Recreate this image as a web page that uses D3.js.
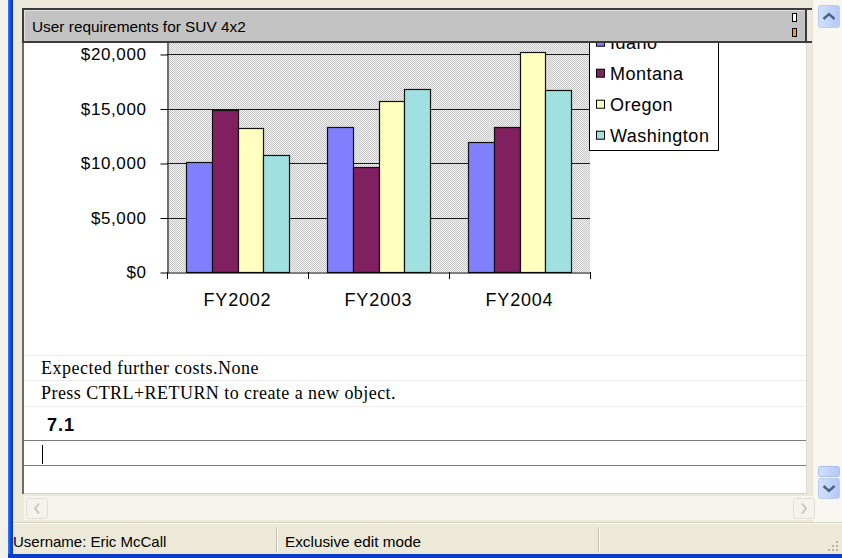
<!DOCTYPE html>
<html>
<head>
<meta charset="utf-8">
<script src="https://cdn.jsdelivr.net/npm/d3@7"></script>
<style>
  html, body { margin: 0; padding: 0; background: #ece9d8; overflow: hidden; }
  svg { display: block; }
</style>
</head>
<body>
<svg id="win" width="842" height="558"></svg>
<script>
// ---- chart data ----
const categories = ["FY2002", "FY2003", "FY2004"];
const seriesNames = ["Idaho", "Montana", "Oregon", "Washington"];
const idaho = [10100, 13300, 11900];
const montana = [14900, 9600, 13300];
const oregon = [13200, 15700, 20200];
const washington = [10700, 16800, 16700];
const seriesColors = ["#8080ff", "#802060", "#ffffc0", "#a0e0e0"];
const yTicks = [0, 5000, 10000, 15000, 20000];
const yMax = 25000;

const seriesValues = [idaho, montana, oregon, washington];

const svg = d3.select("#win");
const defs = svg.append("defs");

// ---- window chrome ----
svg.append("rect").attr("width", 842).attr("height", 558).attr("fill", "#ece9d8");
svg.append("rect").attr("x", 0).attr("y", 0).attr("width", 8).attr("height", 558).attr("fill", "#f2f1ea");

const blueV = defs.append("linearGradient").attr("id", "blueV").attr("x1", 0).attr("x2", 1);
blueV.append("stop").attr("offset", 0).attr("stop-color", "#3d7cf2");
blueV.append("stop").attr("offset", 0.5).attr("stop-color", "#0a4ee0");
blueV.append("stop").attr("offset", 1).attr("stop-color", "#0836b8");
svg.append("rect").attr("x", 8).attr("y", 0).attr("width", 5).attr("height", 558).attr("fill", "url(#blueV)");
svg.append("rect").attr("x", 8).attr("y", 554).attr("width", 834).attr("height", 4).attr("fill", "#0a3cc8");

// right scrollbar track
svg.append("rect").attr("x", 812).attr("y", 0).attr("width", 30).attr("height", 522).attr("fill", "#f8f7f2");
svg.append("line").attr("x1", 812.5).attr("x2", 812.5).attr("y1", 0).attr("y2", 522).attr("stroke", "#e6e4da");

// content pane
const pane = { x: 24, y: 43, w: 782, h: 450 };
svg.append("rect").attr("x", pane.x).attr("y", pane.y).attr("width", pane.w).attr("height", pane.h).attr("fill", "#ffffff");
svg.append("line").attr("x1", 806.5).attr("x2", 806.5).attr("y1", 43).attr("y2", 493).attr("stroke", "#dedcd2");
svg.append("line").attr("x1", 24).attr("x2", 807).attr("y1", 493.5).attr("y2", 493.5).attr("stroke", "#d8d5c8");
svg.append("rect").attr("x", 22).attr("y", 8).attr("width", 2).attr("height", 486).attr("fill", "#6e6c62");

defs.append("clipPath").attr("id", "paneClip")
  .append("rect").attr("x", pane.x).attr("y", pane.y).attr("width", pane.w).attr("height", pane.h);

// ---- embedded column chart ----
const chart = svg.append("g").attr("clip-path", "url(#paneClip)");

const plotLeft = 167, plotRight = 590, plotBottom = 272;

const x = d3.scaleBand().domain(categories).range([plotLeft, plotRight]).paddingInner(0).paddingOuter(0);
const xs = d3.scaleBand().domain(seriesNames).range([0, x.bandwidth()]).paddingInner(0).paddingOuter(0.75);
const y = d3.scaleLinear().domain([0, yMax]).range([plotBottom, -0.5]);

// hatched plot-area fill
const pat = defs.append("pattern").attr("id", "plotFill")
  .attr("width", 2).attr("height", 2).attr("patternUnits", "userSpaceOnUse");
pat.append("rect").attr("width", 2).attr("height", 2).attr("fill", "#f2f2f2");
pat.append("rect").attr("width", 1).attr("height", 1).attr("fill", "#c6c6c6");
pat.append("rect").attr("x", 1).attr("y", 1).attr("width", 1).attr("height", 1).attr("fill", "#c6c6c6");

chart.append("rect")
  .attr("x", plotLeft).attr("y", y(yMax))
  .attr("width", plotRight - plotLeft).attr("height", plotBottom - y(yMax))
  .attr("fill", "url(#plotFill)");

// gridlines
chart.append("g").selectAll("line").data(yTicks.filter(d => d > 0)).join("line")
  .attr("x1", plotLeft).attr("x2", plotRight)
  .attr("y1", d => Math.round(y(d)) + 0.5).attr("y2", d => Math.round(y(d)) + 0.5)
  .attr("stroke", "#1a1a1a").attr("stroke-width", 1);

// bars
const groups = chart.append("g").selectAll("g").data(seriesNames).join("g")
  .attr("fill", (d, i) => seriesColors[i]);
groups.selectAll("rect")
  .data((s, si) => categories.map((c, ci) => ({ s, c, v: seriesValues[si][ci] })))
  .join("rect")
  .attr("x", d => Math.round(x(d.c) + xs(d.s)) + 0.5)
  .attr("y", d => Math.round(y(d.v)) + 0.5)
  .attr("width", d => Math.round(x(d.c) + xs(d.s) + xs.bandwidth()) - Math.round(x(d.c) + xs(d.s)))
  .attr("height", d => plotBottom - Math.round(y(d.v)))
  .attr("stroke", "#111").attr("stroke-width", 1.2);

// value axis
const yAxis = chart.append("g")
  .attr("transform", `translate(${plotLeft + 0.5},0.5)`)
  .call(d3.axisLeft(y).tickValues(yTicks).tickSize(7).tickSizeOuter(0).tickPadding(14)
    .tickFormat(d => "$" + d3.format(",")(d)));
yAxis.select(".domain").attr("stroke", "#000");
yAxis.selectAll(".tick line").attr("stroke", "#000");
yAxis.selectAll(".tick text")
  .attr("font-family", "'Liberation Sans', Arial, sans-serif")
  .attr("font-size", 17).attr("letter-spacing", 0.6).attr("fill", "#000");

// category axis: labels centred, tick marks between categories
const xAxis = chart.append("g")
  .attr("transform", `translate(0,${plotBottom + 0.5})`)
  .call(d3.axisBottom(x).tickSize(0).tickPadding(21).tickSizeOuter(0));
xAxis.select(".domain").attr("stroke", "#000");
xAxis.selectAll(".tick text")
  .attr("font-family", "'Liberation Sans', Arial, sans-serif")
  .attr("font-size", 18).attr("letter-spacing", 0.8).attr("fill", "#000");
const bounds = categories.map(c => x(c)).concat([plotRight]);
chart.append("g").selectAll("line").data(bounds).join("line")
  .attr("x1", d => Math.round(d) + 0.5).attr("x2", d => Math.round(d) + 0.5)
  .attr("y1", plotBottom).attr("y2", plotBottom + 7)
  .attr("stroke", "#000");

// legend
const legend = chart.append("g");
legend.append("rect")
  .attr("x", 589.5).attr("y", 18.5).attr("width", 129).attr("height", 132)
  .attr("fill", "#ffffff").attr("stroke", "#000");
const items = legend.selectAll("g.item").data(seriesNames).join("g")
  .attr("class", "item")
  .attr("transform", (d, i) => `translate(0,${42.7 + i * 31})`);
items.append("rect")
  .attr("x", 596.5).attr("y", -4.5).attr("width", 8).attr("height", 8)
  .attr("fill", (d, i) => seriesColors[i]).attr("stroke", "#000");
items.append("text")
  .attr("x", 610).attr("y", 6.5)
  .attr("font-family", "'Liberation Sans', Arial, sans-serif")
  .attr("font-size", 18).attr("letter-spacing", 0.5).attr("fill", "#000")
  .text(d => d);

// ---- document text below the chart ----
const doc = svg.append("g");
[355.5, 380.5, 406.5].forEach(v => {
  doc.append("line").attr("x1", 24).attr("x2", 806).attr("y1", v).attr("y2", v).attr("stroke", "#ececec");
});
doc.append("text").attr("x", 41).attr("y", 374)
  .attr("font-family", "'Liberation Serif', 'Times New Roman', serif")
  .attr("font-size", 18).attr("letter-spacing", 0.5).attr("fill", "#000")
  .text("Expected further costs.None");
doc.append("text").attr("x", 41).attr("y", 399)
  .attr("font-family", "'Liberation Serif', 'Times New Roman', serif")
  .attr("font-size", 18).attr("letter-spacing", 0.45).attr("fill", "#000")
  .text("Press CTRL+RETURN to create a new object.");
doc.append("text").attr("x", 47).attr("y", 431)
  .attr("font-family", "'Liberation Sans', Arial, sans-serif")
  .attr("font-size", 18).attr("font-weight", "bold").attr("letter-spacing", 1).attr("fill", "#000")
  .text("7.1");
[440.5, 465.5].forEach(v => {
  doc.append("line").attr("x1", 24).attr("x2", 806).attr("y1", v).attr("y2", v).attr("stroke", "#7c7c7c");
});
doc.append("line").attr("x1", 42.5).attr("x2", 42.5).attr("y1", 445).attr("y2", 464).attr("stroke", "#000");

// ---- title bar of the object ----
const head = svg.append("g");
head.append("rect").attr("x", 23).attr("y", 8).attr("width", 789).attr("height", 2).attr("fill", "#3c3c3c");
head.append("rect").attr("x", 23).attr("y", 41).attr("width", 789).attr("height", 2).attr("fill", "#3c3c3c");
head.append("rect").attr("x", 24).attr("y", 10).attr("width", 782).attr("height", 31).attr("fill", "#c3c3c3");
head.append("line").attr("x1", 25).attr("x2", 805).attr("y1", 10.5).attr("y2", 10.5).attr("stroke", "#e2e2e2");
head.append("line").attr("x1", 24.5).attr("x2", 24.5).attr("y1", 10).attr("y2", 41).attr("stroke", "#e2e2e2");
head.append("rect").attr("x", 805).attr("y", 8).attr("width", 2).attr("height", 35).attr("fill", "#3c3c3c");
head.append("rect").attr("x", 22).attr("y", 8).attr("width", 2).attr("height", 35).attr("fill", "#3c3c3c");
head.append("text").attr("x", 32).attr("y", 31.5)
  .attr("font-family", "'Liberation Sans', Arial, sans-serif")
  .attr("font-size", 15.4).attr("fill", "#000")
  .text("User requirements for SUV 4x2");
head.append("rect").attr("x", 792.5).attr("y", 13.5).attr("width", 4).attr("height", 8)
  .attr("fill", "#ffffff").attr("stroke", "#000");
head.append("rect").attr("x", 792.5).attr("y", 28.5).attr("width", 4).attr("height", 8)
  .attr("fill", "#f0a000").attr("stroke", "#000");

// ---- scrollbars ----
const btnGrad = defs.append("linearGradient").attr("id", "btnBlue").attr("x1", 0).attr("x2", 1);
btnGrad.append("stop").attr("offset", 0).attr("stop-color", "#d4e1fc");
btnGrad.append("stop").attr("offset", 1).attr("stop-color", "#b4c8f6");

function blueButton(yTop, h, dir) {
  svg.append("rect").attr("x", 818.5).attr("y", yTop + 0.5).attr("width", 21).attr("height", h)
    .attr("rx", 2).attr("fill", "url(#btnBlue)").attr("stroke", "#b9cdf5");
  if (dir) {
    const cy = yTop + h / 2 + 0.5;
    const d = dir === "up" ? 1 : -1;
    svg.append("path")
      .attr("d", `M${823.5},${cy + 2.5 * d} L${829},${cy - 2.5 * d} L${834.5},${cy + 2.5 * d}`)
      .attr("fill", "none").attr("stroke", "#4d6185").attr("stroke-width", 2.4);
  }
}
blueButton(5, 22, "up");
// thumb
svg.append("rect").attr("x", 818.5).attr("y", 466.5).attr("width", 21).attr("height", 10)
  .attr("rx", 2).attr("fill", "url(#btnBlue)").attr("stroke", "#a8bff2");
blueButton(478, 20, "down");

// horizontal scrollbar
svg.append("rect").attr("x", 24).attr("y", 496).attr("width", 789).attr("height", 24).attr("fill", "#f5f4ef");
function greyButton(xLeft, dir) {
  svg.append("rect").attr("x", xLeft + 0.5).attr("y", 498.5).attr("width", 21).attr("height", 20)
    .attr("rx", 2).attr("fill", "#f3f2ec").attr("stroke", "#e1dfd5");
  const cx = xLeft + 11;
  const d = dir === "left" ? 1 : -1;
  svg.append("path")
    .attr("d", `M${cx + 2 * d},${503.5} L${cx - 2 * d},${508.5} L${cx + 2 * d},${513.5}`)
    .attr("fill", "none").attr("stroke", "#c9c7bb").attr("stroke-width", 2);
}
greyButton(26, "left");
greyButton(793, "right");

// ---- status bar ----
const status = svg.append("g");
status.append("line").attr("x1", 13).attr("x2", 842).attr("y1", 522.5).attr("y2", 522.5).attr("stroke", "#d6d2c2");
status.append("line").attr("x1", 13).attr("x2", 842).attr("y1", 523.5).attr("y2", 523.5).attr("stroke", "#fbfaf6");
[276, 598].forEach(sx => {
  status.append("line").attr("x1", sx + 0.5).attr("x2", sx + 0.5).attr("y1", 527).attr("y2", 552).attr("stroke", "#c5c2b2");
  status.append("line").attr("x1", sx + 1.5).attr("x2", sx + 1.5).attr("y1", 527).attr("y2", 552).attr("stroke", "#ffffff");
});
status.append("text").attr("x", 13).attr("y", 547)
  .attr("font-family", "'Liberation Sans', Arial, sans-serif")
  .attr("font-size", 15).attr("fill", "#000")
  .text("Username: Eric McCall");
status.append("text").attr("x", 285).attr("y", 547)
  .attr("font-family", "'Liberation Sans', Arial, sans-serif")
  .attr("font-size", 15.3).attr("fill", "#000")
  .text("Exclusive edit mode");
// size grip
[[836, 541], [836, 545], [832, 545], [836, 549], [832, 549], [828, 549]].forEach(([gx, gy]) => {
  status.append("rect").attr("x", gx).attr("y", gy).attr("width", 2).attr("height", 2).attr("fill", "#b9b59f");
});
</script>
</body>
</html>
